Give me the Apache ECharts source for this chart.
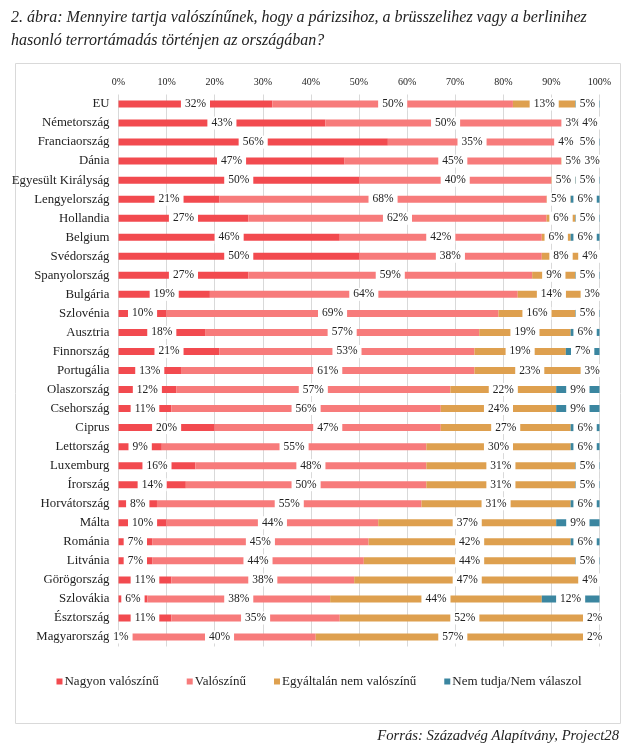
<!DOCTYPE html>
<html>
<head>
<meta charset="utf-8">
<script src="https://cdn.jsdelivr.net/npm/echarts@6/dist/echarts.min.js"></script>
<style>
html,body{margin:0;padding:0;background:#fff;}
#chart{width:638px;height:755px;}
</style>
</head>
<body>
<div id="chart"></div>
<script>
const categories = ['EU','Németország','Franciaország','Dánia','Egyesült Királyság','Lengyelország','Hollandia','Belgium','Svédország','Spanyolország','Bulgária','Szlovénia','Ausztria','Finnország','Portugália','Olaszország','Csehország','Ciprus','Lettország','Luxemburg','Írország','Horvátország','Málta','Románia','Litvánia','Görögország','Szlovákia','Észtország','Magyarország'];
const nagyon = [32,43,56,47,50,21,27,46,50,27,19,10,18,21,13,12,11,20,9,16,14,8,10,7,7,11,6,11,1];
const valoszinu = [50,50,35,45,40,68,62,42,38,59,64,69,57,53,61,57,56,47,55,48,50,55,44,45,44,38,38,35,40];
const egyaltalan = [13,3,4,5,5,5,6,6,8,9,14,16,19,19,23,22,24,27,30,31,31,31,37,42,44,47,44,52,57];
const nemtudja = [5,4,5,3,5,6,5,6,4,5,3,5,6,7,3,9,9,6,6,5,5,6,9,6,5,4,12,2,2];
const seriesNames = ['Nagyon valószínű','Valószínű','Egyáltalán nem valószínű','Nem tudja/Nem válaszol'];
const xTicks = [0,10,20,30,40,50,60,70,80,90,100];

const colors = ['#F24A4F','#F77B7B','#DEA04F','#3B86A0'];
const serif = '"Liberation Serif","Times New Roman",serif';

const chart = echarts.init(document.getElementById('chart'), null, {renderer:'canvas'});

function mkSeries(name, data, color){
  return {
    name: name,
    type: 'bar',
    stack: 'total',
    data: data,
    barWidth: 7,
    itemStyle: {color: color},
    label: {
      show: true,
      position: 'inside',
      formatter: '{c}%',
      color: '#222',
      fontFamily: serif,
      fontSize: 11.5,
      backgroundColor: '#fff',
      padding: [1,4,0,4]
    },
    emphasis: {disabled: true}
  };
}

chart.setOption({
  animation: false,
  textStyle: {fontFamily: serif},
  title: [{
    text: '2. ábra: Mennyire tartja valószínűnek, hogy a párizsihoz, a brüsszelihez vagy a berlinihez\nhasonló terrortámadás történjen az országában?',
    left: 6, top: 1,
    textStyle: {fontFamily: serif, fontStyle: 'italic', fontWeight: 'normal', fontSize: 16, color: '#222', lineHeight: 23}
  }],
  graphic: [
    {type: 'rect', shape: {x: 15.5, y: 63.5, width: 605, height: 660}, style: {fill: 'none', stroke: '#d9d9d9', lineWidth: 1}, z: -1},
    {type: 'text', right: 19, top: 729, style: {text: 'Forrás: Századvég Alapítvány, Project28', font: 'italic 14.7px ' + serif, fill: '#222'}}
  ],
  legend: {
    data: seriesNames,
    left: 'center',
    top: 670,
    itemWidth: 6, itemHeight: 6,
    itemGap: 28,
    icon: 'rect',
    textStyle: {fontFamily: serif, fontSize: 13, color: '#222', padding: [0,0,0,-3]}
  },
  grid: {left: 118.5, right: 38.5, top: 94.5, bottom: 108.5, containLabel: false},
  xAxis: {
    type: 'value',
    position: 'top',
    min: 0, max: 100, interval: 10,
    axisLine: {show: false},
    axisTick: {show: false},
    splitLine: {lineStyle: {color: '#d9d9d9', width: 1}},
    axisLabel: {formatter: function(v){return xTicks.indexOf(v) >= 0 ? v + '%' : '';}, fontFamily: serif, fontSize: 10, color: '#222', margin: 7}
  },
  yAxis: {
    type: 'category',
    data: categories,
    inverse: true,
    axisLine: {show: false},
    axisTick: {show: false},
    axisLabel: {fontFamily: serif, fontSize: 12.8, color: '#222', margin: 9}
  },
  series: [
    mkSeries(seriesNames[0], nagyon, colors[0]),
    mkSeries(seriesNames[1], valoszinu, colors[1]),
    mkSeries(seriesNames[2], egyaltalan, colors[2]),
    mkSeries(seriesNames[3], nemtudja, colors[3])
  ]
});
</script>
</body>
</html>
